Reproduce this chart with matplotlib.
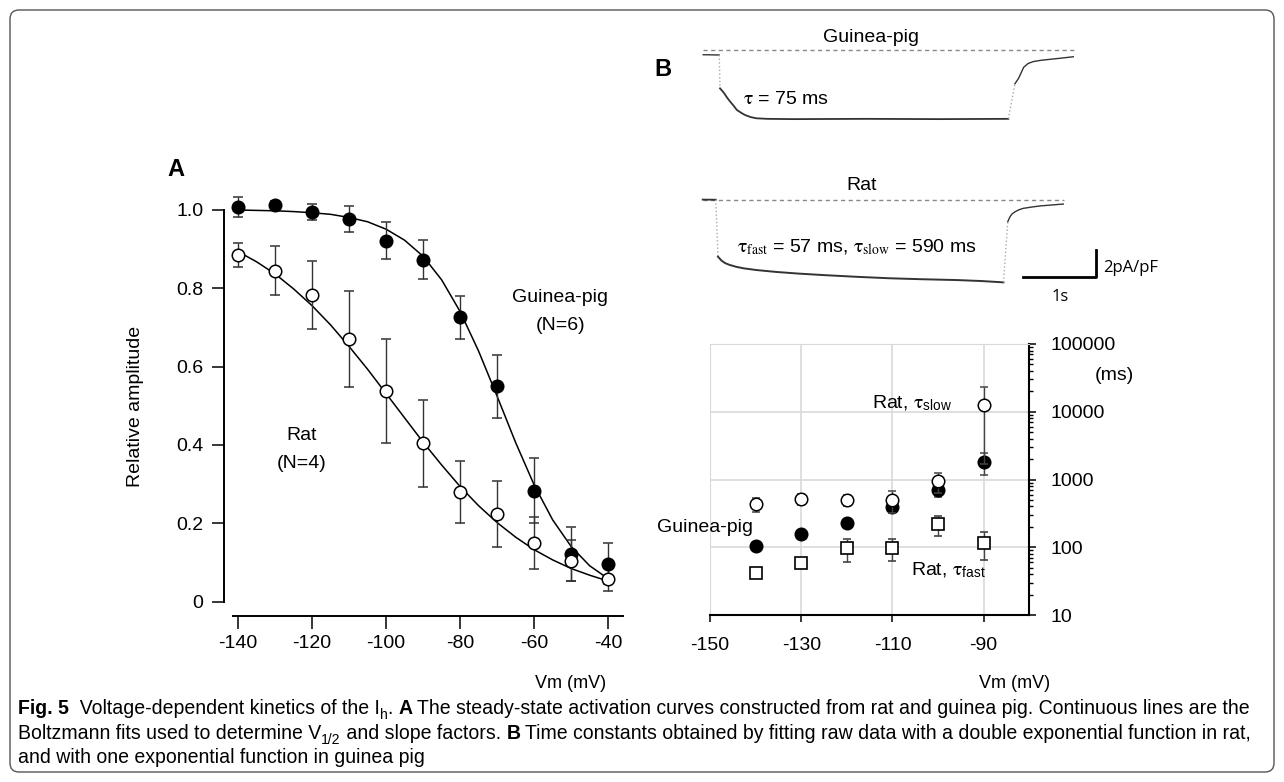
import matplotlib
matplotlib.use('Agg')
import matplotlib.pyplot as plt
from matplotlib.patches import FancyBboxPatch
from matplotlib.ticker import FixedLocator, LogLocator, NullFormatter
from matplotlib import font_manager

# ---- panel A: steady-state activation ----
volts_a = [-140, -130, -120, -110, -100, -90, -80, -70, -60, -50, -40]
gp_amp = [1.006, 1.011, 0.994, 0.977, 0.921, 0.872, 0.725, 0.55, 0.283, 0.122, 0.097]
gp_err = [0.025, 0.012, 0.02, 0.033, 0.047, 0.05, 0.055, 0.08, 0.083, 0.07, 0.052]
rat_amp = [0.884, 0.844, 0.783, 0.671, 0.538, 0.404, 0.28, 0.224, 0.15, 0.105, 0.059]
rat_err = [0.03, 0.062, 0.087, 0.122, 0.133, 0.11, 0.08, 0.085, 0.066, 0.052, 0.03]

# Boltzmann fit lines
fit_v = [-140, -135, -130, -125, -120, -115, -110, -105, -100, -95, -90,
         -85, -80, -75, -70, -65, -60, -55, -50, -45, -40]
gp_fit = [0.999, 0.998, 0.997, 0.995, 0.992, 0.988, 0.980, 0.969, 0.950, 0.922, 0.881,
          0.821, 0.740, 0.639, 0.524, 0.406, 0.298, 0.209, 0.141, 0.092, 0.059]
rat_fit = [0.893, 0.867, 0.836, 0.798, 0.755, 0.706, 0.651, 0.593, 0.531, 0.469, 0.407,
           0.349, 0.294, 0.245, 0.202, 0.165, 0.133, 0.107, 0.085, 0.068, 0.053]

# ---- panel B: time constants (ms) ----
volts_b = [-140, -130, -120, -110, -100, -90]
gp_tau = [105, 155, 225, 390, 700, 1800]
gp_tau_err = [8, 12, 20, 72, 154, 650]
rat_slow = [430, 515, 498, 498, 951, 12600]
rat_slow_err = [95, 100, 90, 178, 310, 10900]
rat_fast = [42, 59, 96, 98, 218, 117]
rat_fast_err = [5, 6, 35, 36, 70, 53]

# ---- raw current traces (t in s, I in pA/pF) ----
gp_pre_t = [-0.23, -0.01]
gp_pre_i = [-0.35, -0.37]
gp_step_t = [0.0, 0.05, 0.10, 0.14, 0.19, 0.23, 0.29, 0.34, 0.42, 0.50, 0.65, 1.0, 2.0, 3.0, 3.95]
gp_step_i = [-2.84, -3.15, -3.55, -3.83, -4.15, -4.44, -4.65, -4.81, -4.97, -5.06, -5.1, -5.12, -5.1, -5.12, -5.1]
gp_tail_t = [4.04, 4.09, 4.16, 4.22, 4.29, 4.4, 4.52, 4.68, 4.84]
gp_tail_i = [-2.5, -2.1, -1.28, -1.0, -0.86, -0.76, -0.69, -0.6, -0.5]

rat_pre_t = [-0.21, -0.03]
rat_pre_i = [0.03, 0.02]
rat_step_t = [0.0, 0.05, 0.1, 0.16, 0.25, 0.35, 0.53, 0.8, 1.1, 1.44, 1.9, 2.36, 2.8, 3.27, 3.6, 3.91]
rat_step_i = [-4.2, -4.5, -4.68, -4.81, -4.95, -5.06, -5.19, -5.33, -5.45, -5.56, -5.69, -5.8, -5.87, -5.93, -6.0, -6.1]
rat_tail_t = [3.97, 4.0, 4.03, 4.07, 4.12, 4.18, 4.3, 4.41, 4.57, 4.73]
rat_tail_i = [-1.6, -1.24, -1.02, -0.87, -0.73, -0.62, -0.52, -0.44, -0.37, -0.3]

W, H = 1284, 782

plt.rcParams['font.family'] = ['Liberation Sans', 'DejaVu Sans']
plt.rcParams['mathtext.fontset'] = 'stix'
plt.rcParams['axes.unicode_minus'] = False

names = {f.name for f in font_manager.fontManager.ttflist}
cap_font = 'Liberation Sans Narrow' if 'Liberation Sans Narrow' in names else 'Liberation Sans'


def fx(x):
    return x / W


def fy(y):
    return 1 - y / H


fig = plt.figure(figsize=(W / 100, H / 100), dpi=100)

# rounded frame
fig.patches.append(FancyBboxPatch((0.10, 0.10), 12.64, 7.62,
                                  boxstyle='round,pad=0,rounding_size=0.09',
                                  transform=fig.dpi_scale_trans, fill=False,
                                  ec='#555555', lw=1.0))

# ================= panel A =================
axA = fig.add_axes([fx(224), fy(616), (623 - 224) / W, (616 - 190) / H])
axA.set_xlim(-143.8, -36)
axA.set_ylim(-0.036, 1.05)
axA.plot(fit_v, gp_fit, color='black', lw=1.1, zorder=2)
axA.plot(fit_v, rat_fit, color='black', lw=1.1, zorder=2)
axA.errorbar(volts_a, gp_amp, yerr=gp_err, fmt='o', ms=9, mfc='black', mec='black',
             mew=1.1, ecolor='#333333', elinewidth=1, capsize=3.5, capthick=1, zorder=3)
axA.errorbar(volts_a, rat_amp, yerr=rat_err, fmt='o', ms=9, mfc='white', mec='black',
             mew=1.1, ecolor='#333333', elinewidth=1, capsize=3.5, capthick=1, zorder=3)
for s in ['top', 'right']:
    axA.spines[s].set_visible(False)
axA.spines['left'].set_bounds(0, 1)
axA.spines['bottom'].set_bounds(-141.4, -36)
axA.spines['left'].set_linewidth(1.4)
axA.spines['bottom'].set_linewidth(1.4)
axA.set_xticks(volts_a[::2])
axA.set_xticklabels([str(v) for v in volts_a[::2]])
axA.set_yticks([0, 0.2, 0.4, 0.6, 0.8, 1.0])
axA.set_yticklabels(['0', '0.2', '0.4', '0.6', '0.8', '1.0'])
axA.tick_params(direction='out', length=9, width=1.1, labelsize=14)
axA.tick_params(axis='y', pad=6)
axA.tick_params(axis='x', pad=5)

fig.text(fx(176), fy(170), 'A', fontsize=17, fontweight='bold', ha='center', va='center')
fig.text(fx(135), fy(406), 'Relative amplitude', fontsize=14, rotation=90, ha='center', va='center')
fig.text(fx(560), fy(297), 'Guinea-pig', fontsize=14, ha='center', va='center')
fig.text(fx(561), fy(326), '(N=6)', fontsize=14, ha='center', va='center')
fig.text(fx(302), fy(435), 'Rat', fontsize=14, ha='center', va='center')
fig.text(fx(302), fy(463), '(N=4)', fontsize=14, ha='center', va='center')

# ================= panel B traces =================
fig.text(fx(663), fy(69), 'B', fontsize=17, fontweight='bold', ha='center', va='center')

trace_col = '#333333'
dot_col = '#aaaaaa'

axG = fig.add_axes([fx(700), fy(135), 400 / W, 110 / H])
axG.set_xlim((700 - 720) / 73, (1100 - 720) / 73)
axG.set_ylim(-(135 - 50) / 13.5, (50 - 25) / 13.5)
axG.axis('off')
axG.plot([-0.233, 4.86], [0, 0], color='#888888', lw=1, ls=(0, (3, 2.5)))
axG.plot(gp_pre_t, gp_pre_i, color=trace_col, lw=1)
axG.plot([gp_pre_t[-1], gp_step_t[0]], [gp_pre_i[-1], gp_step_i[0]], color=dot_col, lw=1, ls=':')
axG.plot(gp_step_t, gp_step_i, color=trace_col, lw=1.3)
axG.plot([gp_step_t[-1], gp_tail_t[0]], [gp_step_i[-1], gp_tail_i[0]], color=dot_col, lw=1, ls=':')
axG.plot(gp_tail_t, gp_tail_i, color=trace_col, lw=1)

axR = fig.add_axes([fx(700), fy(295), 400 / W, 125 / H])
axR.set_xlim((700 - 718) / 73, (1100 - 718) / 73)
axR.set_ylim(-(295 - 200) / 13.5, (200 - 170) / 13.5)
axR.axis('off')
axR.plot([-0.205, 4.74], [0, 0], color='#888888', lw=1, ls=(0, (3, 2.5)))
axR.plot(rat_pre_t, rat_pre_i, color=trace_col, lw=1.3)
axR.plot([rat_pre_t[-1], rat_step_t[0]], [rat_pre_i[-1], rat_step_i[0]], color=dot_col, lw=1, ls=':')
axR.plot(rat_step_t, rat_step_i, color=trace_col, lw=1.4)
axR.plot([rat_step_t[-1], rat_tail_t[0]], [rat_step_i[-1], rat_tail_i[0]], color=dot_col, lw=1, ls=':')
axR.plot(rat_tail_t, rat_tail_i, color=trace_col, lw=1)
# scale bar: 1 s, 2 pA/pF
axR.plot([4.18, 5.18, 5.18], [-5.68, -5.68, -3.68], color='black', lw=2, clip_on=False)

fig.text(fx(871), fy(37), 'Guinea-pig', fontsize=14, ha='center', va='center')
fig.text(fx(862), fy(185), 'Rat', fontsize=14, ha='center', va='center')
fig.text(fx(743), fy(100), r'$\mathrm{\tau}$ = 75 ms', fontsize=14, ha='left', va='center')
fig.text(fx(737), fy(247), r'$\mathrm{\tau}_{\mathrm{fast}}$ = 57 ms, $\mathrm{\tau}_{\mathrm{slow}}$ = 590 ms',
         fontsize=14, ha='left', va='center')
fig.text(fx(1103), fy(268), '2pA/pF', fontsize=12, family=['Open Sans', 'DejaVu Sans'], ha='left', va='center')
fig.text(fx(1060), fy(297), '1s', fontsize=12, family=['Open Sans', 'DejaVu Sans'], ha='center', va='center')

# ================= panel B time constants =================
axB = fig.add_axes([fx(710), fy(615), 319.3 / W, 271 / H])
axB.set_yscale('log')
axB.set_xlim(-150, -80)
axB.set_ylim(10, 100000)
axB.set_axisbelow(True)
axB.grid(True, which='major', color='#d9d9d9', lw=1.2)
ekw = dict(ecolor='#444444', elinewidth=1, capsize=3, capthick=1)
axB.errorbar(volts_b, rat_fast, yerr=rat_fast_err, fmt='s', ms=8.5, mfc='white', mec='black', mew=1.2, zorder=3, **ekw)
axB.errorbar(volts_b, gp_tau, yerr=gp_tau_err, fmt='o', ms=9, mfc='black', mec='black', mew=1.1, zorder=3, **ekw)
axB.errorbar(volts_b, rat_slow, yerr=rat_slow_err, fmt='o', ms=9, mfc='white', mec='black', mew=1.1, zorder=4, **ekw)
axB.spines['left'].set_color('#d9d9d9')
axB.spines['top'].set_color('#d9d9d9')
axB.spines['right'].set_linewidth(1.5)
axB.spines['bottom'].set_linewidth(1.5)
axB.yaxis.tick_right()
axB.yaxis.set_major_locator(FixedLocator([10, 100, 1000, 10000, 100000]))
axB.yaxis.set_minor_locator(LogLocator(base=10, subs=range(2, 10)))
axB.yaxis.set_minor_formatter(NullFormatter())
axB.set_yticklabels(['10', '100', '1000', '10000', '100000'])
axB.set_xticks([-150, -130, -110, -90])
axB.set_xticklabels(['-150', '-130', '-110', '-90'])
axB.tick_params(which='major', direction='out', length=5, width=1.1, labelsize=14)
axB.tick_params(which='minor', direction='out', length=3, width=1)
axB.tick_params(axis='y', which='both', left=False, right=True, pad=10)
axB.tick_params(axis='x', pad=11)

fig.text(fx(1095), fy(375), '(ms)', fontsize=14, ha='left', va='center')
fig.text(fx(872), fy(403), r'Rat, $\mathrm{\tau}_{\mathregular{slow}}$', fontsize=14, ha='left', va='center')
fig.text(fx(657), fy(527), 'Guinea-pig', fontsize=14, ha='left', va='center')
fig.text(fx(911), fy(570), r'Rat, $\mathrm{\tau}_{\mathregular{fast}}$', fontsize=14, ha='left', va='center')

fig.text(fx(571), fy(684), 'Vm (mV)', fontsize=13, family=cap_font, ha='center', va='center')
fig.text(fx(1015), fy(684), 'Vm (mV)', fontsize=13, family=cap_font, ha='center', va='center')

# ================= caption =================
cap_lines = [
    [('Fig. 5', True, False), ('  Voltage-dependent kinetics of the I', False, False), ('h', False, True),
     ('. ', False, False), ('A', True, False),
     (' The steady-state activation curves constructed from rat and guinea pig. Continuous lines are the', False, False)],
    [('Boltzmann fits used to determine V', False, False), ('1/2', False, True),
     (' and slope factors. ', False, False), ('B', True, False),
     (' Time constants obtained by fitting raw data with a double exponential function in rat,', False, False)],
    [('and with one exponential function in guinea pig', False, False)],
]
cap_y = [714, 739, 763]


def rich_line(x_px, y_px, parts, size):
    r = fig.canvas.get_renderer()
    out = []
    cur = x_px
    for s, bold, sub in parts:
        fs = size * 0.72 if sub else size
        yy = y_px + size * 1.389 * 0.25 if sub else y_px
        t = fig.text(fx(cur), fy(yy), s, fontsize=fs, family=cap_font,
                     fontweight='bold' if bold else 'normal', ha='left', va='baseline')
        cur += t.get_window_extent(r).width
        out.append(t)
    return out, cur - x_px


trial, width = rich_line(18, cap_y[0], cap_lines[0], 13)
for t in trial:
    t.remove()
cap_size = 13 * 1227 / width
for parts, y in zip(cap_lines, cap_y):
    rich_line(18, y, parts, cap_size)

fig.savefig('out.png', dpi=100)
